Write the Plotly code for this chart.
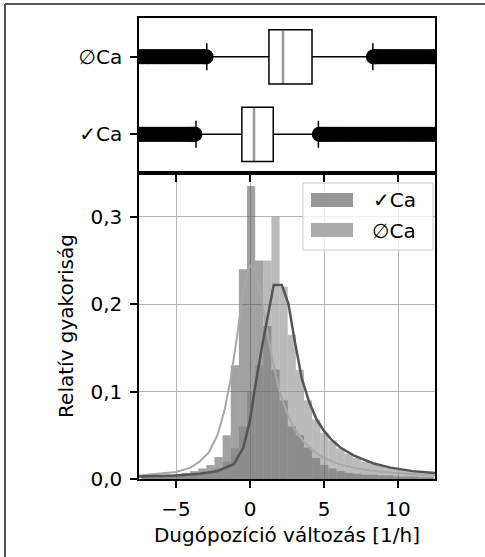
import plotly.graph_objects as go

# ---- data -------------------------------------------------------------
groups = ["✓Ca", "∅Ca"]          # box rows (bottom, top)
box_pos = [0, 1]

# precomputed box statistics [✓Ca, ∅Ca]
q1 = [-0.55, 1.28]
median = [0.27, 2.23]
q3 = [1.57, 4.19]
lowerfence = [-3.65, -2.92]
upperfence = [4.62, 8.30]

# outliers
fliers_ca = [-8.95, -8.8, -8.62, -8.5, -8.33, -8.2, -8.04, -7.9, -7.75,
             -7.61, -7.47, -7.3, -7.18, -7.02, -6.88, -6.73, -6.6, -6.44,
             -6.3, -6.15, -6.01, -5.86, -5.72, -5.57, -5.43, -5.3, -5.14,
             -5.0, -4.86, -4.71, -4.57, -4.44, -4.3, -4.16, -4.04, -3.93,
             -3.83, -3.76, -3.71,
             4.68, 4.75, 4.84, 4.95, 5.08, 5.2, 5.33, 5.47, 5.6, 5.74,
             5.88, 6.02, 6.15, 6.3, 6.44, 6.58, 6.72, 6.87, 7.0, 7.15,
             7.3, 7.44, 7.58, 7.73, 7.88, 8.02, 8.17, 8.31, 8.46, 8.6,
             8.75, 8.9, 9.05, 9.19, 9.34, 9.5, 9.64, 9.8, 9.95, 10.1,
             10.26, 10.41, 10.57, 10.72, 10.88, 11.03, 11.2, 11.36, 11.52,
             11.68, 11.85, 12.01, 12.18, 12.35, 12.52, 12.7, 12.9, 13.1]
fliers_noca = [-8.93, -8.78, -8.64, -8.49, -8.35, -8.2, -8.06, -7.91,
               -7.77, -7.62, -7.48, -7.33, -7.19, -7.04, -6.9, -6.76, -6.61,
               -6.47, -6.32, -6.18, -6.04, -5.89, -5.75, -5.61, -5.46,
               -5.32, -5.18, -5.03, -4.89, -4.75, -4.61, -4.47, -4.33,
               -4.19, -4.05, -3.91, -3.78, -3.65, -3.52, -3.4, -3.29,
               -3.18, -3.08, -3.0, -2.96,
               8.34, 8.4, 8.48, 8.58, 8.7, 8.83, 8.96, 9.1, 9.24, 9.38,
               9.53, 9.67, 9.82, 9.97, 10.12, 10.27, 10.42, 10.58, 10.73,
               10.89, 11.05, 11.21, 11.37, 11.53, 11.7, 11.87, 12.04,
               12.21, 12.39, 12.57, 12.76, 12.95, 13.15]

# histogram bins (centres) and relative frequencies
bin_width = 0.55
bin_centers = [-7.075, -6.525, -5.975, -5.425, -4.875, -4.325, -3.775,
               -3.225, -2.675, -2.125, -1.575, -1.025, -0.475, 0.075,
               0.625, 1.175, 1.725, 2.275, 2.825, 3.375, 3.925, 4.475,
               5.025, 5.575, 6.125, 6.675, 7.225, 7.775, 8.325, 8.875,
               9.425, 9.975, 10.525, 11.075, 11.625, 12.175]
hist_ca = [0.003, 0.004, 0.004, 0.005, 0.006, 0.007, 0.009, 0.012, 0.016,
           0.025, 0.05, 0.13, 0.24, 0.335, 0.25, 0.175, 0.125, 0.09,
           0.06, 0.05, 0.036, 0.024, 0.016, 0.012, 0.009, 0.007, 0.006,
           0.005, 0.005, 0.004, 0.004, 0.003, 0.003, 0.003, 0.002, 0.002]
hist_noca = [0.002, 0.002, 0.003, 0.003, 0.003, 0.004, 0.005, 0.006, 0.008,
             0.012, 0.02, 0.035, 0.06, 0.1, 0.13, 0.25, 0.30, 0.22,
             0.165, 0.125, 0.09, 0.068, 0.053, 0.044, 0.035, 0.029, 0.024,
             0.02, 0.017, 0.015, 0.013, 0.011, 0.01, 0.009, 0.008, 0.007]

# fitted density curves
fit_ca_x = [-7.5, -6, -5, -4, -3.4, -2.8, -2.2, -1.7, -1.3, -0.9, -0.5,
            -0.15, 0.1, 0.4, 0.8, 1.2, 1.6, 2.0, 2.5, 3.0, 3.6, 4.2, 5,
            6, 7.5, 9, 10.5, 12.5]
fit_ca_y = [0.004, 0.006, 0.008, 0.013, 0.02, 0.03, 0.05, 0.08, 0.115,
            0.16, 0.21, 0.24, 0.245, 0.235, 0.205, 0.165, 0.13, 0.1, 0.075,
            0.057, 0.043, 0.033, 0.024, 0.017, 0.011, 0.008, 0.006, 0.004]
fit_noca_x = [-7.5, -5, -3.4, -2.2, -1.1, -0.45, 0.0, 0.34, 0.8, 1.23,
              1.6, 2.15, 2.6, 3.0, 3.5, 4.0, 4.5, 5.0, 5.5, 6.1, 7.0, 8.3,
              9.5, 11.0, 12.5]
fit_noca_y = [0.003, 0.004, 0.006, 0.009, 0.017, 0.036, 0.067, 0.105, 0.15,
              0.19, 0.222, 0.222, 0.2, 0.16, 0.115, 0.088, 0.068, 0.055,
              0.045, 0.036, 0.027, 0.018, 0.013, 0.009, 0.007]

x_ticks = [-5, 0, 5, 10]
y_ticks = [0.0, 0.1, 0.2, 0.3]
y_ticktext = ["0,0", "0,1", "0,2", "0,3"]

# ---- styling ----------------------------------------------------------
FONT = "DejaVu Sans"
FS = 20
color_ca = "rgba(70,70,70,0.5)"
color_noca = "rgba(120,120,120,0.5)"
W, H = 485, 557
L, R, T, B = 139, 50, 18, 78
pw, ph = W - L - R, H - T - B
split = 306 / ph          # bottom panel height fraction

fig = go.Figure()

# histograms (bottom panel)
fig.add_trace(go.Bar(x=bin_centers, y=hist_ca, width=bin_width,
                     marker=dict(color=color_ca, line=dict(width=0)),
                     xaxis="x", yaxis="y", showlegend=False))
fig.add_trace(go.Bar(x=bin_centers, y=hist_noca, width=bin_width,
                     marker=dict(color=color_noca, line=dict(width=0)),
                     xaxis="x", yaxis="y", showlegend=False))
fig.add_trace(go.Scatter(x=fit_ca_x, y=fit_ca_y, mode="lines",
                         line=dict(color="#a8a8a8", width=2),
                         xaxis="x", yaxis="y", showlegend=False))
fig.add_trace(go.Scatter(x=fit_noca_x, y=fit_noca_y, mode="lines",
                         line=dict(color="#555555", width=2.5),
                         xaxis="x", yaxis="y", showlegend=False))

# box plots (top panel)
for i in range(2):
    fig.add_trace(go.Box(
        y=[box_pos[i]], q1=[q1[i]], median=[median[i]], q3=[q3[i]],
        lowerfence=[lowerfence[i]], upperfence=[upperfence[i]],
        orientation="h", width=0.7, whiskerwidth=0.5,
        fillcolor="white", line=dict(color="black", width=1.5),
        boxpoints=False, xaxis="x2", yaxis="y2", showlegend=False,
        hoverinfo="skip"))
    # grey median line
    fig.add_trace(go.Scatter(
        x=[median[i], median[i]], y=[box_pos[i] - 0.34, box_pos[i] + 0.34],
        mode="lines", line=dict(color="#9a9a9a", width=2.6),
        xaxis="x2", yaxis="y2", showlegend=False))

for pos, fl in zip(box_pos, [fliers_ca, fliers_noca]):
    fig.add_trace(go.Scatter(
        x=fl, y=[pos] * len(fl), mode="markers",
        marker=dict(color="black", size=15, line=dict(width=0)),
        xaxis="x2", yaxis="y2", showlegend=False))

axis_common = dict(showline=True, linecolor="black", linewidth=1.5,
                   mirror=True, ticks="outside", ticklen=7, tickwidth=1.5,
                   tickcolor="black", zeroline=False,
                   tickfont=dict(family=FONT, size=FS, color="black"))

fig.update_layout(
    width=W, height=H,
    margin=dict(l=L, r=R, t=T, b=B),
    paper_bgcolor="white", plot_bgcolor="white",
    barmode="overlay",
    font=dict(family=FONT, size=FS, color="black"),
    xaxis=dict(domain=[0, 1], anchor="y", range=[-7.5, 12.5],
               tickvals=x_ticks, showgrid=True, gridcolor="#b4b4b4",
               gridwidth=1.3, ticklabelstandoff=4,
               title=dict(text="Dugópozíció változás [1/h]", standoff=8,
                          font=dict(family=FONT, size=FS)),
               **axis_common),
    yaxis=dict(domain=[0, split], anchor="x", range=[0, 0.35],
               tickvals=y_ticks, ticktext=y_ticktext, showgrid=True,
               gridcolor="#b4b4b4", gridwidth=1.3, ticklabelstandoff=4,
               title=dict(text="Relatív gyakoriság", standoff=11,
                          font=dict(family=FONT, size=FS)),
               **axis_common),
    xaxis2=dict(domain=[0, 1], anchor="y2", range=[-7.5, 12.5],
                tickvals=x_ticks, showticklabels=False, showgrid=False,
                **axis_common),
    yaxis2=dict(domain=[split, 1], anchor="x2", range=[-0.5, 1.5],
                tickvals=box_pos, ticktext=groups, showgrid=False,
                ticklabelstandoff=4, **axis_common),
)

# legend drawn in the upper-right corner of the histogram panel
def px_x(px):
    return (px - L) / pw


def px_y(py):
    return (H - B - py) / ph


shapes = [
    dict(type="rect", xref="paper", yref="paper",
         x0=px_x(303), x1=px_x(433), y0=px_y(250), y1=px_y(183),
         line=dict(color="#cccccc", width=1), fillcolor="rgba(255,255,255,0.8)",
         layer="above"),
    dict(type="rect", xref="paper", yref="paper",
         x0=px_x(311), x1=px_x(353), y0=px_y(207), y1=px_y(193),
         line=dict(width=0), fillcolor="rgb(150,150,150)", layer="above"),
    dict(type="rect", xref="paper", yref="paper",
         x0=px_x(311), x1=px_x(353), y0=px_y(237), y1=px_y(223),
         line=dict(width=0), fillcolor="rgb(172,172,172)", layer="above"),
    # frame lines along the top and left edge of the page
    dict(type="line", xref="paper", yref="paper",
         x0=px_x(5), x1=px_x(W), y0=px_y(4), y1=px_y(4),
         line=dict(color="#555555", width=2)),
    dict(type="line", xref="paper", yref="paper",
         x0=px_x(5), x1=px_x(5), y0=px_y(4), y1=px_y(H),
         line=dict(color="#555555", width=2)),
]
fig.update_layout(shapes=shapes)

for label, yc in zip(groups, [200, 231]):
    fig.add_annotation(text=label, xref="paper", yref="paper",
                       x=px_x(418), y=px_y(yc), xanchor="right",
                       yanchor="middle", showarrow=False,
                       font=dict(family=FONT, size=FS, color="black"))

fig.write_html("out.html")
